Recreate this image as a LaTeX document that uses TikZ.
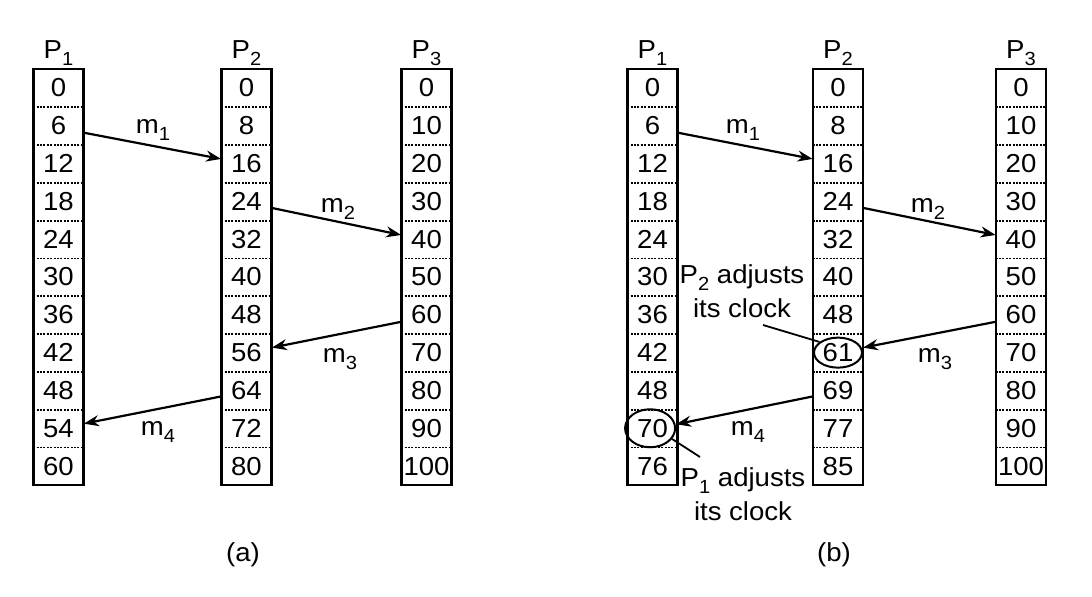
\documentclass[tikz,border=0pt]{standalone}
\usepackage{fontspec}
\setmainfont{Liberation Sans}[FakeStretch=1.06]
\usetikzlibrary{arrows.meta,shapes.geometric}
\newcommand{\lowsub}[1]{\raisebox{-0.5ex}{\fontsize{9.5}{10}\selectfont #1}}
\begin{document}
\begin{tikzpicture}[x=0.5pt,y=-0.5pt,font=\fontsize{13}{15}\selectfont,
  cell/.style={minimum width=25pt,minimum height=18.909pt,inner sep=0pt},
  colframe/.style={draw,line width=1.1pt,minimum width=25pt,minimum height=208pt,inner sep=0pt},
  sep/.style={line width=0.9pt,dash pattern=on 1pt off 0.7pt},
  msg/.style={line width=1.1pt,-{Stealth[length=7.5pt,width=5.5pt]}},
  ptr/.style={line width=0.9pt},
  oval/.style={draw,ellipse,line width=1pt,inner sep=0pt},
  note/.style={align=center,inner sep=0pt,font=\fontsize{13}{17}\selectfont}]
\useasboundingbox (0,0) rectangle (1092,597);
\foreach \cname/\cx/\pn/\vals in {
  a1/58.5/1/{0,6,12,18,24,30,36,42,48,54,60},
  a2/246.5/2/{0,8,16,24,32,40,48,56,64,72,80},
  a3/426.5/3/{0,10,20,30,40,50,60,70,80,90,100},
  b1/652.5/1/{0,6,12,18,24,30,36,42,48,70,76},
  b2/838/2/{0,8,16,24,32,40,48,61,69,77,85},
  b3/1021/3/{0,10,20,30,40,50,60,70,80,90,100}}{
  \foreach \v [count=\i from 0] in \vals {
    \node[cell] (\cname c\i) at ({\cx},{69+37.818*(\i+0.5)}) {\v};
  }
  \foreach \i in {0,...,9} {
    \draw[sep] (\cname c\i.south west) -- (\cname c\i.south east);
  }
  \node[colframe] (\cname) at ({\cx},277) {};
  \node (\cname lab) at ({\cx},53) {P\lowsub{\pn}};
}
% (a) messages
\draw[msg] ([yshift=-3.5pt]a1c1.east) -- ([yshift=2.3pt]a2c2.west);
\draw[msg] ([yshift=-3.3pt]a2c3.east) -- ([yshift=2.1pt]a3c4.west);
\draw[msg] ([yshift=-3.5pt]a3c6.west) -- ([yshift=2.5pt]a2c7.east);
\draw[msg] ([yshift=-3pt]a2c8.west) -- ([yshift=2.3pt]a1c9.east);
\node (am1) at (153,130) {m\lowsub{1}};
\node (am2) at (338,209) {m\lowsub{2}};
\node (am3) at (340,359) {m\lowsub{3}};
\node (am4) at (158,432) {m\lowsub{4}};
% (b) ovals
\node[oval,minimum width=24pt,minimum height=15pt] (e61) at (b2c7) {};
\node[oval,minimum width=25pt,minimum height=19pt] (e70) at ([xshift=-1.2pt]b1c9.center) {};
% (b) messages
\draw[msg] ([yshift=-3.5pt]b1c1.east) -- ([yshift=2.3pt]b2c2.west);
\draw[msg] ([yshift=-3.3pt]b2c3.east) -- ([yshift=2.1pt]b3c4.west);
\draw[msg] ([yshift=-3.5pt]b3c6.west) -- ([yshift=2.5pt]e61.east);
\draw[msg] ([yshift=-3pt]b2c8.west) -- ([yshift=2pt]e70.east);
\node (bm1) at (743,130) {m\lowsub{1}};
\node (bm2) at (928,209) {m\lowsub{2}};
\node (bm3) at (935,359) {m\lowsub{3}};
\node (bm4) at (748,432) {m\lowsub{4}};
% annotations
\node[note] (t2) at (742,291) {P\lowsub{2} adjusts\\its clock};
\node[note] (t1) at (743,494) {P\lowsub{1} adjusts\\its clock};
\coordinate (p2ptr) at (763,325);
\coordinate (p1ptr) at (700,457);
\draw[ptr] (p2ptr) -- (e61.150);
\draw[ptr] (e70.-26) -- (p1ptr);
% captions
\node (capa) at (243,555) {(a)};
\node (capb) at (834,555) {(b)};
\end{tikzpicture}
\end{document}
